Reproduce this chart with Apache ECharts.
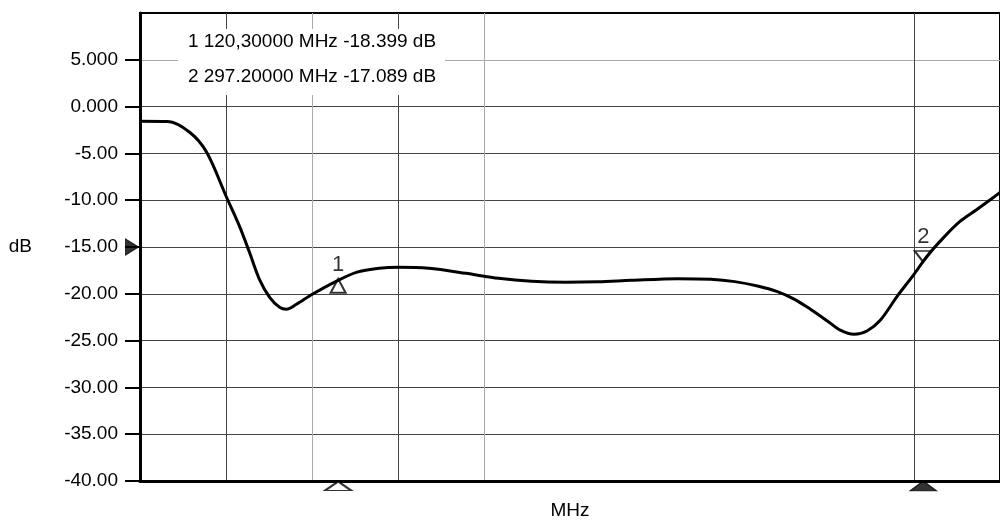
<!DOCTYPE html>
<html><head><meta charset="utf-8">
<script src="https://cdn.jsdelivr.net/npm/echarts@6/dist/echarts.min.js"></script>
<style>html,body{margin:0;padding:0;background:#fff}#c{width:1000px;height:525px}</style>
</head><body><div id="c"></div>
<script>
// ---- data ----
const freqMHz = [60.4, 68.8, 75.5, 80.6, 86.6, 90.5, 93.5, 96.5, 99.6, 102.6, 104.7, 107.7, 112.5, 119.7, 125.8, 132.7, 138.7, 147.7, 158.9, 168.8, 178.8, 189.0, 198.9, 208.9, 223.0, 233.0, 240.2, 247.1, 253.1, 258.3, 263.1, 268.2, 272.1, 276.3, 280.2, 284.2, 289.3, 294.4, 298.3, 303.4, 308.3, 313.4, 318.8, 320.4];
const traceDb = [-1.57, -1.6, -2.77, -4.91, -9.71, -12.8, -15.57, -18.45, -20.37, -21.44, -21.65, -21.12, -20.05, -18.67, -17.71, -17.28, -17.17, -17.28, -17.81, -18.35, -18.67, -18.77, -18.72, -18.56, -18.38, -18.45, -18.7, -19.17, -19.77, -20.59, -21.65, -22.9, -23.89, -24.32, -23.97, -22.83, -20.27, -17.92, -16.0, -13.97, -12.27, -10.99, -9.6, -9.17];
const markerNames = ['1', '2'];
const markerFreq = [120.3, 297.2];
const markerDb = [-18.399, -17.089];
const markerReadout = ['1 120,30000 MHz -18.399 dB', '2 297.20000 MHz -17.089 dB'];
const yTickValues = [-40, -35, -30, -25, -20, -15, -10, -5, 0, 5];
const yTickLabels = ['-40.00', '-35.00', '-30.00', '-25.00', '-20.00', '-15.00', '-10.00', '-5.00', '0.000', '5.000'];
const xGridFreq = [86.4, 112.4, 138.4, 164.4, 294.4];
const refLevelDb = -15;
const xMin = 60.4, xMax = 320.4, yMin = -40, yMax = 10;
const xName = 'MHz', yName = 'dB';

// ---- chart ----
const FONT = "'Liberation Sans', Arial, sans-serif";
const FS = 19;
const chart = echarts.init(document.getElementById('c'), null, {renderer: 'canvas'});
const trace = freqMHz.map((f, i) => [f, traceDb[i]]);
const openStyle = {color: '#fff', borderColor: '#000', borderWidth: 2};
const fillStyle = {color: '#000', borderColor: '#000', borderWidth: 1};
const mkLabel = (t) => ({show: true, position: 'top', distance: 2, formatter: t, fontSize: 22, color: '#000', fontFamily: FONT});

chart.setOption({
  animation: false,
  backgroundColor: '#fff',
  grid: {left: 140, right: -3, top: 13, bottom: 43, show: true, borderColor: '#000', borderWidth: 2, backgroundColor: 'transparent'},
  xAxis: {
    type: 'value', min: xMin, max: xMax,
    name: xName, nameLocation: 'middle', nameGap: 20,
    nameTextStyle: {fontSize: FS, color: '#000', fontFamily: FONT},
    axisLine: {show: true, onZero: false, lineStyle: {color: '#000', width: 3}},
    axisTick: {show: false, customValues: xGridFreq},
    axisLabel: {show: false, customValues: xGridFreq},
    splitLine: {show: true, lineStyle: {color: ['#444', '#aaa', '#444', '#aaa', '#444'], width: 1}}
  },
  yAxis: {
    type: 'value', min: yMin, max: yMax, interval: 5,
    name: yName, nameLocation: 'middle', nameRotate: 0, nameGap: 108,
    nameTextStyle: {fontSize: FS, color: '#000', fontFamily: FONT},
    axisLine: {show: true, onZero: false, lineStyle: {color: '#000', width: 3}},
    axisTick: {show: true, length: 15, lineStyle: {color: '#000', width: 2}, customValues: yTickValues},
    axisLabel: {show: true, margin: 22, fontSize: FS, color: '#000', fontFamily: FONT, customValues: yTickValues,
      formatter: (v) => { const i = yTickValues.indexOf(v); return i >= 0 ? yTickLabels[i] : ''; }},
    splitLine: {show: true, lineStyle: {color: ['#444', '#444', '#444', '#444', '#444', '#444', '#444', '#444', '#444', '#aaa'], width: 1}}
  },
  graphic: [
    {type: 'rect', z: 10, x: 178, y: 29, shape: {x: 0, y: 0, width: 267, height: 66}, style: {fill: '#fff'}},
    {type: 'text', z: 11, x: 312, y: 42, style: {text: markerReadout[0], fill: '#000', font: FS + "px " + FONT, align: 'center', verticalAlign: 'middle'}},
    {type: 'text', z: 11, x: 312, y: 77, style: {text: markerReadout[1], fill: '#000', font: FS + "px " + FONT, align: 'center', verticalAlign: 'middle'}}
  ],
  series: [
    {type: 'scatter', silent: true, z: 2, clip: false, data: [[markerFreq[0], markerDb[0]]],
     symbol: 'triangle', symbolSize: [15, 14], symbolOffset: [0, 7], itemStyle: openStyle, label: mkLabel(markerNames[0])},
    {type: 'scatter', silent: true, z: 2, clip: false, data: [[markerFreq[1], markerDb[1]]],
     symbol: 'path://M0,0L10,0L5,10Z', symbolSize: [17, 11], symbolOffset: [0, -10], itemStyle: openStyle, label: mkLabel(markerNames[1])},
    {type: 'scatter', silent: true, z: 5, clip: false, data: [[markerFreq[0], yMin]],
     symbol: 'triangle', symbolSize: [26, 9], symbolOffset: [0, 5], itemStyle: openStyle},
    {type: 'scatter', silent: true, z: 5, clip: false, data: [[markerFreq[1], yMin]],
     symbol: 'triangle', symbolSize: [27, 10], symbolOffset: [0, 5], itemStyle: fillStyle},
    {type: 'scatter', silent: true, z: 5, clip: false, data: [[xMin, refLevelDb]],
     symbol: 'path://M0,0L10,5L0,10Z', symbolSize: [13, 16], symbolOffset: [-8, 0], itemStyle: fillStyle},
    {type: 'line', silent: true, z: 3, data: trace, showSymbol: false, smooth: 0.3,
     lineStyle: {color: '#000', width: 3}}
  ]
});
</script></body></html>
